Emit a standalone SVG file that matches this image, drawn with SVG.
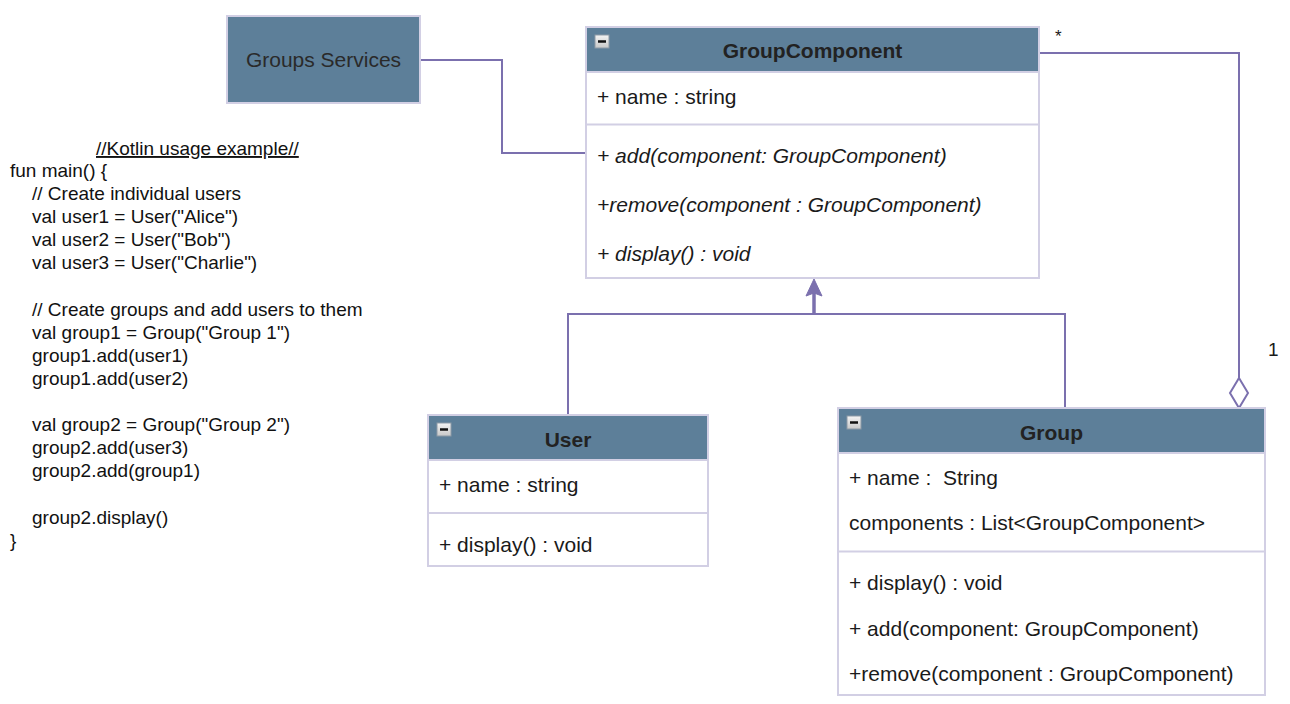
<svg xmlns="http://www.w3.org/2000/svg" width="1290" height="704" viewBox="0 0 1290 704">
<defs>
<style>
.box{fill:#ffffff;stroke:#d2cfe4;stroke-width:2}
.hdr{fill:#5d7f99;stroke:#d2cfe4;stroke-width:2}
.div{stroke:#d2cfe4;stroke-width:2}
.t{font-family:"Liberation Sans",Arial,sans-serif;font-size:21px;fill:#1a1a1a}
.ti{font-family:"Liberation Sans",Arial,sans-serif;font-size:21px;fill:#1a1a1a;font-style:italic}
.h{font-family:"Liberation Sans",Arial,sans-serif;font-size:21px;font-weight:bold;fill:#222;text-anchor:middle}
.code{font-family:"Liberation Sans",Arial,sans-serif;font-size:19px;fill:#111}
.ln{fill:none;stroke:#7b70ae;stroke-width:2}
.mm{stroke:#111;stroke-width:2.5}
</style>
<linearGradient id="mg" x1="0" y1="0" x2="0" y2="1"><stop offset="0" stop-color="#f4f4f4"/><stop offset="1" stop-color="#c8c8c8"/></linearGradient>
</defs>

<g id="connectors">
<polyline class="ln" points="420,60 502,60 502,153 586,153"/>
<polyline class="ln" points="1039,53 1239,53 1239,378"/>
<polygon points="1239,378 1248,393 1239,408 1230,393" fill="#fff" stroke="#7b70ae" stroke-width="2"/>
<polyline class="ln" points="568,415 568,314 1065,314 1065,408"/>
<line x1="814" y1="314" x2="814" y2="292" stroke="#7b70ae" stroke-width="3.5"/>
<polygon points="814,279 822,296 814,293 806,296" fill="#7b70ae" stroke="#7b70ae" stroke-width="1"/>
<text x="1055" y="42" class="t" style="font-size:17px">*</text>
<text x="1268" y="356" class="t" style="font-size:19px">1</text>
</g>

<g id="groups-services">
<rect x="227" y="16" width="193" height="87" class="hdr"/>
<text x="323.5" y="66.5" class="t" style="text-anchor:middle;fill:#2a2a2a">Groups Services</text>
</g>

<g id="group-component">
<rect x="586" y="27" width="453" height="251" class="box"/>
<rect x="586" y="27" width="453" height="45" class="hdr"/>
<rect x="595" y="35" width="14" height="13" fill="url(#mg)" stroke="#8d9aa6"/>
<line x1="598" y1="41.5" x2="606" y2="41.5" class="mm"/>
<text x="812.5" y="57.5" class="h">GroupComponent</text>
<text x="597" y="103.5" class="t">+ name : string</text>
<line x1="586" y1="124.5" x2="1039" y2="124.5" class="div"/>
<text x="597" y="162.5" class="ti">+ add(component: GroupComponent)</text>
<text x="597" y="211.5" class="ti">+remove(component : GroupComponent)</text>
<text x="597" y="260.5" class="ti">+ display() : void</text>
</g>

<g id="user">
<rect x="428" y="415" width="280" height="151" class="box"/>
<rect x="428" y="415" width="280" height="45" class="hdr"/>
<rect x="437" y="423" width="14" height="13" fill="url(#mg)" stroke="#8d9aa6"/>
<line x1="440" y1="429.5" x2="448" y2="429.5" class="mm"/>
<text x="568" y="446.5" class="h">User</text>
<text x="439" y="491.5" class="t">+ name : string</text>
<line x1="428" y1="513" x2="708" y2="513" class="div"/>
<text x="439" y="551.5" class="t">+ display() : void</text>
</g>

<g id="group">
<rect x="838" y="408" width="427" height="287" class="box"/>
<rect x="838" y="408" width="427" height="45" class="hdr"/>
<rect x="847" y="416" width="14" height="13" fill="url(#mg)" stroke="#8d9aa6"/>
<line x1="850" y1="422.5" x2="858" y2="422.5" class="mm"/>
<text x="1051.5" y="439.5" class="h">Group</text>
<text x="849" y="484.5" class="t" xml:space="preserve">+ name :  String</text>
<text x="849" y="529.5" class="t">components : List&lt;GroupComponent&gt;</text>
<line x1="838" y1="551.5" x2="1265" y2="551.5" class="div"/>
<text x="849" y="589.5" class="t">+ display() : void</text>
<text x="849" y="635.5" class="t">+ add(component: GroupComponent)</text>
<text x="849" y="680.5" class="t">+remove(component : GroupComponent)</text>
</g>

<g id="kotlin-example">
<text x="96" y="155" class="code" text-decoration="underline">//Kotlin usage example//</text>
<text x="10" y="177" class="code">fun main() {</text>
<text x="32" y="200" class="code">// Create individual users</text>
<text x="32" y="223" class="code">val user1 = User("Alice")</text>
<text x="32" y="246" class="code">val user2 = User("Bob")</text>
<text x="32" y="269" class="code">val user3 = User("Charlie")</text>
<text x="32" y="316" class="code">// Create groups and add users to them</text>
<text x="32" y="339" class="code">val group1 = Group("Group 1")</text>
<text x="32" y="362" class="code">group1.add(user1)</text>
<text x="32" y="385" class="code">group1.add(user2)</text>
<text x="32" y="431" class="code">val group2 = Group("Group 2")</text>
<text x="32" y="454" class="code">group2.add(user3)</text>
<text x="32" y="477" class="code">group2.add(group1)</text>
<text x="32" y="524" class="code">group2.display()</text>
<text x="10" y="547" class="code">}</text>
</g>
</svg>
